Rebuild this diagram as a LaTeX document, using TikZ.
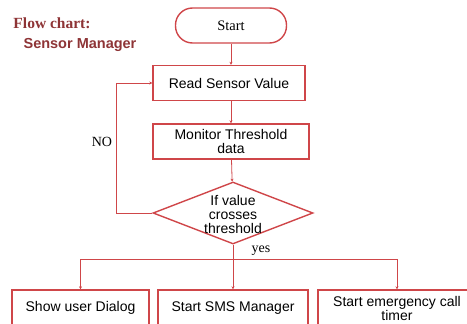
\documentclass[tikz,border=0pt]{standalone}
\usepackage{fontspec}
\setmainfont{Liberation Serif}
\setsansfont{Liberation Sans}
\usetikzlibrary{shapes.geometric,arrows.meta}
\definecolor{boxred}{HTML}{CF4649}
\definecolor{titlered}{HTML}{8E3436}
\begin{document}
\begin{tikzpicture}[x=1pt,y=-1pt,
	box/.style={draw=boxred,line width=1.4pt,minimum height=35pt,inner sep=2pt,align=center,font=\sffamily\fontsize{14}{14}\selectfont},
	term/.style={draw=boxred,line width=1.4pt,rounded corners=17pt,minimum width=111pt,minimum height=35pt,font=\fontsize{14.5}{16}\selectfont},
	decision/.style={draw=boxred,line width=1.4pt,diamond,minimum width=160pt,minimum height=62pt,inner sep=0pt},
	link/.style={draw=boxred,line width=0.8pt},
	arrow/.style={link,-{Stealth[length=3pt,width=3pt]}},
	lbl/.style={font=\fontsize{14}{16}\selectfont}]
	\useasboundingbox (0,0) rectangle (467,324);
	\node[font=\bfseries\fontsize{15.5}{17}\selectfont,text=titlered] (title) at (52,23) {Flow chart:};
	\node[font=\sffamily\bfseries\fontsize{14.5}{16}\selectfont,text=titlered] (subtitle) at (80,45) {Sensor Manager};
	\node[term] (start) at (231,25.5) {Start};
	\node[box,minimum width=152pt] (read) at (229,83) {Read Sensor Value};
	\node[box,minimum width=156pt] (monitor) at (231,141.5) {Monitor Threshold\\data};
	\node[decision] (check) at (233,213) {};
	\node[box,draw=none,inner sep=0pt,minimum height=0pt] (checktext) at (233,214) {If value\\crosses\\threshold};
	\node[box,minimum width=137pt,minimum height=36pt] (dialog) at (80.5,308) {Show user Dialog};
	\node[box,minimum width=150pt,minimum height=36pt] (sms) at (233,308) {Start SMS Manager};
	\node[box,minimum width=158pt,minimum height=36pt] (emergency) at (397,308) {Start emergency call\\timer};
	\coordinate (split) at (233,259);
		\draw[arrow] (start) -- (start |- read.north);
		\draw[arrow] (monitor |- read.south) -- (monitor);
		\draw[arrow] (monitor) -- (check);
		\draw[arrow] (check.west) -- ++(-36,0) |- (read.west);
		\draw[link] (check.south) -- (split);
		\draw[arrow] (split) -| (dialog.north);
		\draw[arrow] (split) -- (sms);
		\draw[arrow] (split) -| (emergency.north);
	\node[lbl] (no) at (102,142) {NO};
	\node[lbl] (yes) at (261,251) {yes};
\end{tikzpicture}
\end{document}
